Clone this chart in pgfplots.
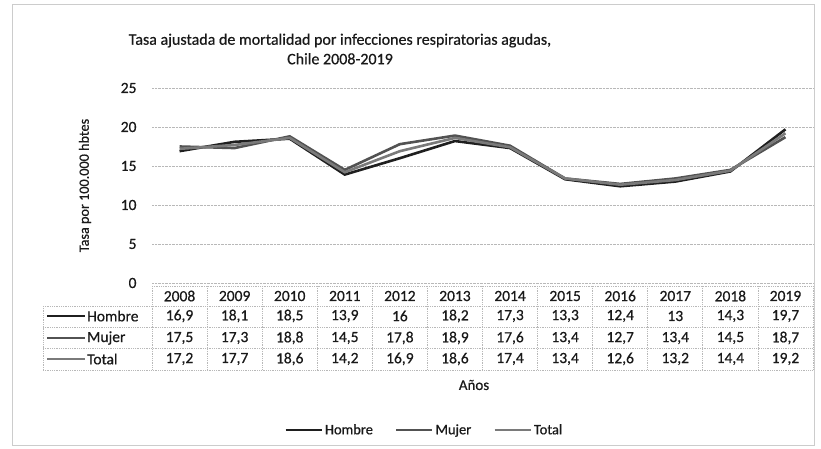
\documentclass[border=0pt]{standalone}
\usepackage{pgfplots}
\pgfplotsset{compat=1.18}
\usepackage{pgfplotstable}
\usepackage{fontspec}
\setmainfont{Carlito}[FakeBold=0.6]

\definecolor{chom}{gray}{0.12}
\definecolor{cmuj}{gray}{0.32}
\definecolor{ctot}{gray}{0.48}
\definecolor{txt}{gray}{0.10}
\definecolor{gridc}{gray}{0.72}

\pgfplotstableread{
x year h m t
0 2008 16.9 17.5 17.2
1 2009 18.1 17.3 17.7
2 2010 18.5 18.8 18.6
3 2011 13.9 14.5 14.2
4 2012 16.0 17.8 16.9
5 2013 18.2 18.9 18.6
6 2014 17.3 17.6 17.4
7 2015 13.3 13.4 13.4
8 2016 12.4 12.7 12.6
9 2017 13.0 13.4 13.2
10 2018 14.3 14.5 14.4
11 2019 19.7 18.7 19.2
}\datatable

\begin{document}
\begin{tikzpicture}[x=1pt,y=1pt]
\useasboundingbox (0,0) rectangle (821,449);
\draw[gray!40] (12,4) rectangle (814,445);
\node[font=\fontsize{16}{19.5}\selectfont, text=txt, align=center] at (340,400)
  {Tasa ajustada de mortalidad por infecciones respiratorias agudas,\\Chile 2008-2019};
\node[font=\fontsize{15}{18}\selectfont, text=txt] at (474,64) {Años};
% table grid (absolute)
\tikzset{tg/.style={gridc, densely dotted, line width=0.8pt}}
\foreach \i in {0,...,12} {\draw[tg] (152+\i*55.0833,163) -- (152+\i*55.0833,79);}
\draw[tg] (152,163) -- (813,163);
\foreach \r in {143,122,101,79} {\draw[tg] (43,\r) -- (813,\r);}
\draw[tg] (43,143) -- (43,79);
\draw[chom, line width=2.6pt] (47,133) -- (85,133);
\draw[cmuj, line width=2.6pt] (47,111) -- (85,111);
\draw[ctot, line width=2.6pt] (47,90) -- (85,90);
\node[anchor=west, inner sep=1pt, font=\fontsize{15.5}{18}\selectfont, text=txt] at (86,133) {Hombre};
\node[anchor=west, inner sep=1pt, font=\fontsize{15.5}{18}\selectfont, text=txt] at (86,111) {Mujer};
\node[anchor=west, inner sep=1pt, font=\fontsize{15.5}{18}\selectfont, text=txt] at (86,90) {Total};
\begin{axis}[
  at={(152pt,166pt)}, anchor=south west,
  scale only axis, width=661pt, height=195pt,
  xmin=-0.5, xmax=11.5, ymin=0, ymax=25,
  ytick={0,5,...,25}, xtick=\empty,
  axis line style={draw=none}, tick style={draw=none},
  ymajorgrids, grid style={gridc, densely dotted, line width=0.8pt},
  clip=false,
  yticklabel style={font=\fontsize{15.5}{18}\selectfont, text=txt, xshift=-12pt},
  /pgf/number format/assume math mode=true,
  /pgf/number format/.cd, use comma, 1000 sep={}, /pgfplots/.cd,
  ylabel={Tasa por 100.000 hbtes},
  ylabel style={font=\fontsize{14.2}{17}\selectfont, text=txt},
  every axis y label/.append style={at={(axis description cs:-0.1014,0.5)}, anchor=center, rotate=0},
  legend style={at={(0.412,-0.754)}, anchor=center, draw=none, fill=none,
    legend columns=3, font=\fontsize{14.5}{17}\selectfont, text=txt,
    /tikz/every even column/.append style={column sep=20pt}},
  legend image code/.code={\draw[#1, line width=2.6pt] (0pt,0pt) -- (36pt,0pt);},
]
\addplot[chom, line width=2.6pt] table[x=x, y=h] {\datatable};
\addlegendentry{Hombre}
\addplot[cmuj, line width=2.6pt] table[x=x, y=m] {\datatable};
\addlegendentry{Mujer}
\addplot[ctot, line width=2.6pt] table[x=x, y=t] {\datatable};
\addlegendentry{Total}
% table values
\addplot[draw=none, forget plot, nodes near coords, point meta=explicit,
  every node near coord/.append style={anchor=center, font=\fontsize{15.5}{18}\selectfont, text=txt,
    /pgf/number format/fixed, /pgf/number format/precision=0, /pgf/number format/1000 sep={}}]
  table[x=x, y expr=-1.67, meta=year] {\datatable};
\addplot[draw=none, forget plot, nodes near coords, point meta=explicit,
  every node near coord/.append style={anchor=center, font=\fontsize{15.5}{18}\selectfont, text=txt,
    /pgf/number format/fixed, /pgf/number format/precision=1, /pgf/number format/use comma}]
  table[x=x, y expr=-4.23, meta=h] {\datatable};
\addplot[draw=none, forget plot, nodes near coords, point meta=explicit,
  every node near coord/.append style={anchor=center, font=\fontsize{15.5}{18}\selectfont, text=txt,
    /pgf/number format/fixed, /pgf/number format/precision=1, /pgf/number format/use comma}]
  table[x=x, y expr=-7.05, meta=m] {\datatable};
\addplot[draw=none, forget plot, nodes near coords, point meta=explicit,
  every node near coord/.append style={anchor=center, font=\fontsize{15.5}{18}\selectfont, text=txt,
    /pgf/number format/fixed, /pgf/number format/precision=1, /pgf/number format/use comma}]
  table[x=x, y expr=-9.74, meta=t] {\datatable};
\end{axis}
\end{tikzpicture}
\end{document}
